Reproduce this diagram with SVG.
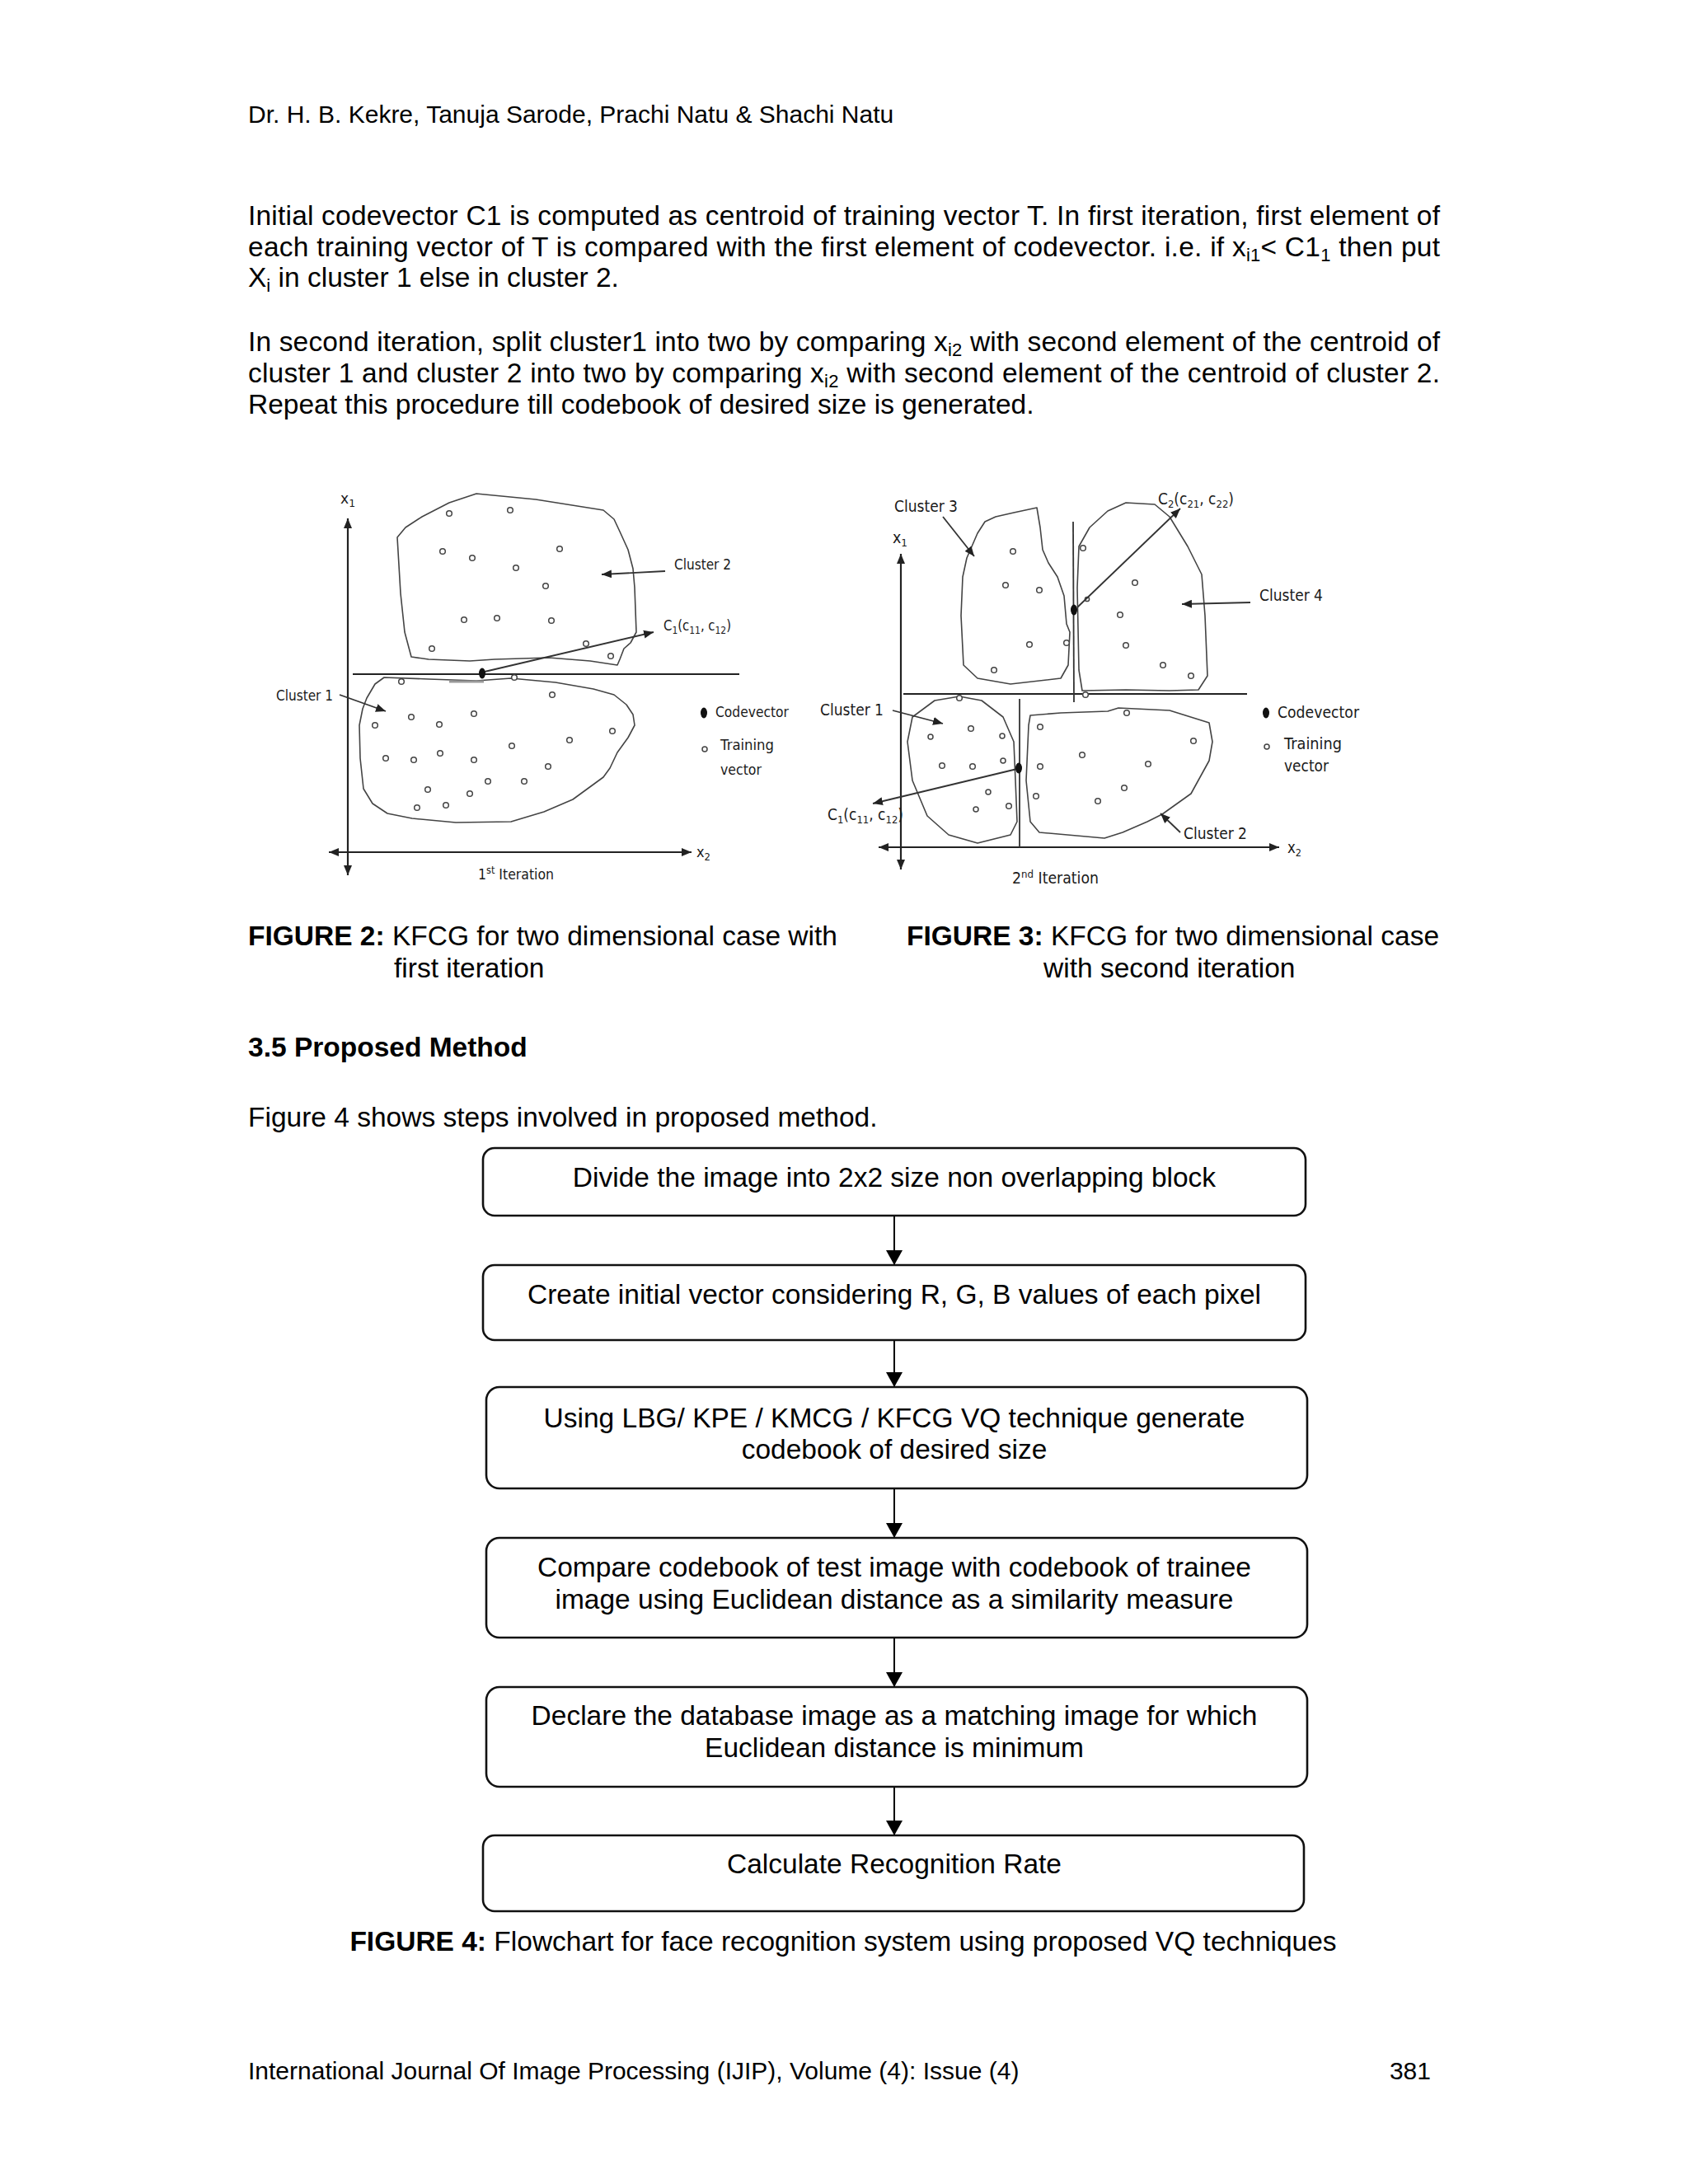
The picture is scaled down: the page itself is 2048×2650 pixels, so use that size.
<svg xmlns="http://www.w3.org/2000/svg" width="2048" height="2650" viewBox="0 0 2048 2650">
<style>
.t{font-family:"Liberation Sans",Arial,sans-serif;font-size:33.5px;fill:#000}
.h{font-family:"Liberation Sans",Arial,sans-serif;font-size:30px;fill:#000}
.b{font-weight:bold}
.sub{font-size:22px}
.f{font-family:"DejaVu Sans",Verdana,sans-serif;font-size:18px;fill:#1a1a1a}
.f3{font-family:"DejaVu Sans",Verdana,sans-serif;font-size:19px;fill:#1a1a1a}
.fs{font-size:13px}
.blob{fill:none;stroke:#444;stroke-width:1.6;stroke-linejoin:round}
.ax{stroke:#222;stroke-width:2.2;fill:none}
.ln{stroke:#333;stroke-width:1.8;fill:none}
.pt{fill:#fff;stroke:#444;stroke-width:1.5}
.cv{fill:#111}
.box{fill:#fff;stroke:#111;stroke-width:2.6}
.conn{stroke:#000;stroke-width:2;fill:none}
.bt{font-family:"Liberation Sans",Arial,sans-serif;font-size:33.5px;fill:#000;text-anchor:middle}
</style>
<defs>
<marker id="fa" viewBox="0 0 18 20" refX="18" refY="10" markerWidth="18" markerHeight="20" markerUnits="userSpaceOnUse" orient="auto"><path d="M0,0 L18,10 L0,20 Z" fill="#000"/></marker>
<marker id="ga" viewBox="0 0 12 10" refX="12" refY="5" markerWidth="12" markerHeight="10" markerUnits="userSpaceOnUse" orient="auto-start-reverse"><path d="M0,0 L12,5 L0,10 Z" fill="#222"/></marker>
</defs>

<g id="page-text">
<text class="h" x="301" y="149">Dr. H. B. Kekre, Tanuja Sarode, Prachi Natu &amp; Shachi Natu</text>
<text class="t" x="301" y="273" textLength="1446" lengthAdjust="spacing">Initial codevector C1 is computed as centroid of training vector T. In first iteration, first element of</text>
<text class="t" x="301" y="311" textLength="1446" lengthAdjust="spacing">each training vector of T is compared with the first element of codevector. i.e. if x<tspan class="sub" dy="6">i1</tspan><tspan dy="-6">&lt; C1</tspan><tspan class="sub" dy="6">1</tspan><tspan dy="-6"> then put</tspan></text>
<text class="t" x="301" y="348">X<tspan class="sub" dy="6">i</tspan><tspan dy="-6"> in cluster 1 else in cluster 2.</tspan></text>
<text class="t" x="301" y="426" textLength="1446" lengthAdjust="spacing">In second iteration, split cluster1 into two by comparing x<tspan class="sub" dy="6">i2</tspan><tspan dy="-6"> with second element of the centroid of</tspan></text>
<text class="t" x="301" y="464" textLength="1446" lengthAdjust="spacing">cluster 1 and cluster 2 into two by comparing x<tspan class="sub" dy="6">i2</tspan><tspan dy="-6"> with second element of the centroid of cluster 2.</tspan></text>
<text class="t" x="301" y="502">Repeat this procedure till codebook of desired size is generated.</text>

<text class="t" x="301" y="1147"><tspan class="b">FIGURE 2:</tspan> KFCG for two dimensional case with</text>
<text class="t" x="478" y="1186">first iteration</text>
<text class="t" x="1100" y="1147"><tspan class="b">FIGURE 3:</tspan> KFCG for two dimensional case</text>
<text class="t" x="1266" y="1186">with second iteration</text>
<text class="t b" x="301" y="1282">3.5 Proposed Method</text>
<text class="t" x="301" y="1367">Figure 4 shows steps involved in proposed method.</text>
<text class="t" x="1023" y="2367" text-anchor="middle"><tspan class="b">FIGURE 4:</tspan> Flowchart for face recognition system using proposed VQ techniques</text>
<text class="h" x="301" y="2523">International Journal Of Image Processing (IJIP), Volume (4): Issue (4)</text>
<text class="h" x="1736" y="2523" text-anchor="end">381</text>
</g>

<g id="figure2">
<line class="ax" x1="422" y1="629" x2="422" y2="1062" marker-start="url(#ga)" marker-end="url(#ga)"/>
<line class="ax" x1="399" y1="1034" x2="839" y2="1034" marker-start="url(#ga)" marker-end="url(#ga)"/>
<text class="f" x="413" y="611" textLength="18" lengthAdjust="spacingAndGlyphs">x<tspan class="fs" dy="4">1</tspan></text>
<text class="f" x="845" y="1040" textLength="17" lengthAdjust="spacingAndGlyphs">x<tspan class="fs" dy="4">2</tspan></text>
<text class="f" x="580" y="1067" textLength="92" lengthAdjust="spacingAndGlyphs">1<tspan class="fs" dy="-7">st</tspan><tspan dy="7"> Iteration</tspan></text>
<line class="ax" x1="428" y1="818" x2="897" y2="818"/>
<path class="blob" d="M482,652 L492,640 L512,627 L545,610 L578,599 L650,606 L732,619 L745,630 L752,645 L762,667 L768,690 L770,713 L772,767 L765,780 L757,787 L752,800 L749,807 L716,802 L666,798 L600,800 L570,802 L520,800 L499,797 L491,767 L486,720 Z"/>
<path class="blob" d="M466,822 L520,824 L578,826 L620,823 L674,828 L720,836 L745,843 L760,855 L768,867 L770,880 L762,895 L749,913 L740,932 L732,943 L695,970 L660,985 L620,997 L553,998 L500,993 L470,987 L452,975 L441,957 L437,920 L436,880 L440,860 L445,847 L455,830 Z"/>
<g>
<circle class="pt" cx="545" cy="623" r="3.3"/><circle class="pt" cx="619" cy="619" r="3.3"/><circle class="pt" cx="537" cy="669" r="3.3"/><circle class="pt" cx="573" cy="677" r="3.3"/><circle class="pt" cx="679" cy="666" r="3.3"/><circle class="pt" cx="626" cy="689" r="3.3"/><circle class="pt" cx="662" cy="711" r="3.3"/><circle class="pt" cx="563" cy="752" r="3.3"/><circle class="pt" cx="603" cy="750" r="3.3"/><circle class="pt" cx="669" cy="753" r="3.3"/><circle class="pt" cx="524" cy="787" r="3.3"/><circle class="pt" cx="711" cy="781" r="3.3"/><circle class="pt" cx="741" cy="796" r="3.3"/>
<circle class="pt" cx="487" cy="827" r="3.3"/><circle class="pt" cx="624" cy="822" r="3.3"/><circle class="pt" cx="670" cy="843" r="3.3"/><circle class="pt" cx="499" cy="870" r="3.3"/><circle class="pt" cx="575" cy="866" r="3.3"/><circle class="pt" cx="455" cy="880" r="3.3"/><circle class="pt" cx="533" cy="879" r="3.3"/><circle class="pt" cx="743" cy="887" r="3.3"/><circle class="pt" cx="691" cy="898" r="3.3"/><circle class="pt" cx="621" cy="905" r="3.3"/><circle class="pt" cx="468" cy="920" r="3.3"/><circle class="pt" cx="502" cy="922" r="3.3"/><circle class="pt" cx="534" cy="914" r="3.3"/><circle class="pt" cx="575" cy="922" r="3.3"/><circle class="pt" cx="665" cy="930" r="3.3"/><circle class="pt" cx="592" cy="948" r="3.3"/><circle class="pt" cx="636" cy="948" r="3.3"/><circle class="pt" cx="519" cy="958" r="3.3"/><circle class="pt" cx="570" cy="963" r="3.3"/><circle class="pt" cx="506" cy="980" r="3.3"/><circle class="pt" cx="541" cy="977" r="3.3"/>
</g>
<line x1="545" y1="827" x2="587" y2="827" stroke="#999" stroke-width="3"/>
<line class="ln" x1="588" y1="815" x2="793" y2="767" marker-end="url(#ga)"/>
<ellipse class="cv" cx="585" cy="817" rx="4" ry="6.5"/>
<text class="f" x="805" y="765" textLength="82" lengthAdjust="spacingAndGlyphs">C<tspan class="fs" dy="4">1</tspan><tspan dy="-4">(c</tspan><tspan class="fs" dy="4">11</tspan><tspan dy="-4">, c</tspan><tspan class="fs" dy="4">12</tspan><tspan dy="-4">)</tspan></text>
<text class="f" x="818" y="691" textLength="69" lengthAdjust="spacingAndGlyphs">Cluster 2</text>
<line class="ln" x1="807" y1="693" x2="730" y2="697" marker-end="url(#ga)"/>
<text class="f" x="335" y="850" textLength="69" lengthAdjust="spacingAndGlyphs">Cluster 1</text>
<line class="ln" x1="412" y1="843" x2="468" y2="863" marker-end="url(#ga)"/>
<ellipse class="cv" cx="854" cy="865" rx="4" ry="6.5"/>
<text class="f" x="868" y="870" textLength="89" lengthAdjust="spacingAndGlyphs">Codevector</text>
<circle class="pt" cx="855" cy="909" r="3"/>
<text class="f" x="874" y="910" textLength="65" lengthAdjust="spacingAndGlyphs">Training</text>
<text class="f" x="874" y="940" textLength="50" lengthAdjust="spacingAndGlyphs">vector</text>
</g>

<g id="figure3">
<line class="ax" x1="1093" y1="672" x2="1093" y2="1055" marker-start="url(#ga)" marker-end="url(#ga)"/>
<line class="ax" x1="1066" y1="1028" x2="1552" y2="1028" marker-start="url(#ga)" marker-end="url(#ga)"/>
<text class="f3" x="1083" y="659" textLength="18" lengthAdjust="spacingAndGlyphs">x<tspan class="fs" dy="4">1</tspan></text>
<text class="f3" x="1562" y="1035" textLength="17" lengthAdjust="spacingAndGlyphs">x<tspan class="fs" dy="4">2</tspan></text>
<text class="f3" x="1228" y="1072" textLength="105" lengthAdjust="spacingAndGlyphs">2<tspan class="fs" dy="-7">nd</tspan><tspan dy="7"> Iteration</tspan></text>
<line class="ax" x1="1096" y1="842" x2="1513" y2="842"/>
<line class="ln" x1="1302" y1="633" x2="1303" y2="852"/>
<line class="ln" x1="1237" y1="848" x2="1237" y2="1028"/>
<path class="blob" d="M1186,647 L1195,633 L1208,627 L1230,622 L1258,616 L1262,640 L1265,667 L1272,683 L1283,700 L1291,723 L1294,757 L1298,767 L1296,807 L1287,823 L1226,830 L1186,823 L1169,807 L1166,747 L1168,700 L1173,677 Z"/>
<path class="blob" d="M1307,713 L1309,663 L1322,640 L1344,620 L1366,610 L1401,612 L1419,627 L1441,663 L1458,697 L1462,747 L1465,820 L1454,837 L1419,838 L1366,837 L1313,838 L1309,813 Z"/>
<path class="blob" d="M1164,845 L1191,850 L1217,870 L1230,900 L1232,947 L1234,997 L1226,1013 L1186,1023 L1151,1013 L1125,990 L1107,947 L1101,900 L1107,870 L1134,850 Z"/>
<path class="blob" d="M1250,868 L1287,865 L1344,863 L1357,859 L1419,862 L1467,877 L1471,900 L1467,923 L1445,963 L1410,988 L1392,997 L1362,1010 L1340,1017 L1261,1010 L1250,997 L1245,947 L1248,880 Z"/>
<g>
<circle class="pt" cx="1229" cy="669" r="3.3"/><circle class="pt" cx="1220" cy="710" r="3.3"/><circle class="pt" cx="1261" cy="716" r="3.3"/><circle class="pt" cx="1249" cy="782" r="3.3"/><circle class="pt" cx="1294" cy="780" r="3.3"/><circle class="pt" cx="1206" cy="813" r="3.3"/>
<circle class="pt" cx="1314" cy="665" r="3.3"/><circle class="pt" cx="1377" cy="707" r="3.3"/><circle class="pt" cx="1319" cy="727" r="2.6"/><circle class="pt" cx="1359" cy="746" r="3.3"/><circle class="pt" cx="1366" cy="783" r="3.3"/><circle class="pt" cx="1411" cy="807" r="3.3"/><circle class="pt" cx="1445" cy="820" r="3.3"/><circle class="pt" cx="1317" cy="843" r="3.3"/>
<circle class="pt" cx="1164" cy="847" r="3.3"/><circle class="pt" cx="1178" cy="884" r="3.3"/><circle class="pt" cx="1129" cy="894" r="3"/><circle class="pt" cx="1216" cy="893" r="3"/><circle class="pt" cx="1143" cy="929" r="3.3"/><circle class="pt" cx="1180" cy="930" r="3.3"/><circle class="pt" cx="1217" cy="923" r="3"/><circle class="pt" cx="1199" cy="961" r="3"/><circle class="pt" cx="1184" cy="982" r="3"/><circle class="pt" cx="1224" cy="978" r="3.3"/>
<circle class="pt" cx="1367" cy="865" r="3.3"/><circle class="pt" cx="1262" cy="882" r="3.3"/><circle class="pt" cx="1448" cy="899" r="3.3"/><circle class="pt" cx="1313" cy="916" r="3.3"/><circle class="pt" cx="1393" cy="927" r="3.3"/><circle class="pt" cx="1262" cy="930" r="3.3"/><circle class="pt" cx="1364" cy="956" r="3.3"/><circle class="pt" cx="1257" cy="966" r="3.3"/><circle class="pt" cx="1332" cy="972" r="3.3"/>
</g>
<line class="ln" x1="1307" y1="737" x2="1432" y2="617" marker-end="url(#ga)"/>
<line class="ln" x1="1234" y1="933" x2="1059" y2="975" marker-end="url(#ga)"/>
<ellipse class="cv" cx="1303" cy="740" rx="4" ry="6.5"/>
<ellipse class="cv" cx="1236" cy="932" rx="4" ry="6.5"/>
<text class="f3" x="1405" y="612" textLength="92" lengthAdjust="spacingAndGlyphs">C<tspan class="fs" dy="4">2</tspan><tspan dy="-4">(c</tspan><tspan class="fs" dy="4">21</tspan><tspan dy="-4">, c</tspan><tspan class="fs" dy="4">22</tspan><tspan dy="-4">)</tspan></text>
<text class="f3" x="1085" y="621" textLength="77" lengthAdjust="spacingAndGlyphs">Cluster 3</text>
<line class="ln" x1="1144" y1="627" x2="1182" y2="675" marker-end="url(#ga)"/>
<text class="f3" x="1528" y="729" textLength="77" lengthAdjust="spacingAndGlyphs">Cluster 4</text>
<line class="ln" x1="1517" y1="731" x2="1434" y2="733" marker-end="url(#ga)"/>
<text class="f3" x="995" y="868" textLength="77" lengthAdjust="spacingAndGlyphs">Cluster 1</text>
<line class="ln" x1="1083" y1="862" x2="1144" y2="878" marker-end="url(#ga)"/>
<text class="f3" x="1436" y="1018" textLength="77" lengthAdjust="spacingAndGlyphs">Cluster 2</text>
<line class="ln" x1="1432" y1="1010" x2="1408" y2="987" marker-end="url(#ga)"/>
<text class="f3" x="1004" y="995" textLength="92" lengthAdjust="spacingAndGlyphs">C<tspan class="fs" dy="4">1</tspan><tspan dy="-4">(c</tspan><tspan class="fs" dy="4">11</tspan><tspan dy="-4">, c</tspan><tspan class="fs" dy="4">12</tspan><tspan dy="-4">)</tspan></text>
<ellipse class="cv" cx="1536" cy="865" rx="4" ry="6.5"/>
<text class="f3" x="1550" y="871" textLength="99" lengthAdjust="spacingAndGlyphs">Codevector</text>
<circle class="pt" cx="1537" cy="906" r="3"/>
<text class="f3" x="1558" y="909" textLength="70" lengthAdjust="spacingAndGlyphs">Training</text>
<text class="f3" x="1558" y="936" textLength="54" lengthAdjust="spacingAndGlyphs">vector</text>
</g>

<g id="connectors">
<line class="conn" x1="1085" y1="1475" x2="1085" y2="1535" marker-end="url(#fa)"/>
<line class="conn" x1="1085" y1="1626" x2="1085" y2="1683" marker-end="url(#fa)"/>
<line class="conn" x1="1085" y1="1806" x2="1085" y2="1866" marker-end="url(#fa)"/>
<line class="conn" x1="1085" y1="1987" x2="1085" y2="2047" marker-end="url(#fa)"/>
<line class="conn" x1="1085" y1="2168" x2="1085" y2="2227" marker-end="url(#fa)"/>
</g>

<g id="step1"><rect class="box" x="586" y="1393" width="998" height="82" rx="14"/><text class="bt" x="1085" y="1440">Divide the image into 2x2 size non overlapping block</text></g>
<g id="step2"><rect class="box" x="586" y="1535" width="998" height="91" rx="14"/><text class="bt" x="1085" y="1582">Create initial vector considering R, G, B values of each pixel</text></g>
<g id="step3"><rect class="box" x="590" y="1683" width="996" height="123" rx="16"/><text class="bt" x="1085" y="1732">Using LBG/ KPE / KMCG / KFCG VQ technique generate</text><text class="bt" x="1085" y="1770">codebook of desired size</text></g>
<g id="step4"><rect class="box" x="590" y="1866" width="996" height="121" rx="16"/><text class="bt" x="1085" y="1913">Compare codebook of test image with codebook of trainee</text><text class="bt" x="1085" y="1952">image using Euclidean distance as a similarity measure</text></g>
<g id="step5"><rect class="box" x="590" y="2047" width="996" height="121" rx="16"/><text class="bt" x="1085" y="2093">Declare the database image as a matching image for which</text><text class="bt" x="1085" y="2132">Euclidean distance is minimum</text></g>
<g id="step6"><rect class="box" x="586" y="2227" width="996" height="92" rx="14"/><text class="bt" x="1085" y="2273">Calculate Recognition Rate</text></g>
</svg>
